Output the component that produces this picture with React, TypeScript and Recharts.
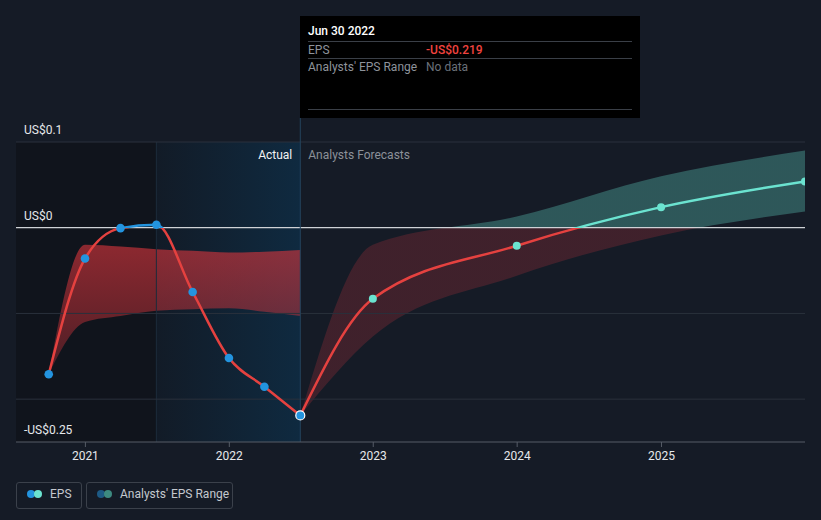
import React from 'react';
import { ComposedChart, Line, Area, XAxis, YAxis, ReferenceLine, ReferenceArea } from 'recharts';

// ---- data ----
const histDates = ['2020-09-30', '2020-12-31', '2021-03-31', '2021-06-30', '2021-09-30', '2021-12-31', '2022-03-31', '2022-06-30'];
const histEps = [-0.171, -0.036, -0.0005, 0.0035, -0.075, -0.152, -0.1855, -0.219];
const histLow = [-0.171, -0.110, -0.103, -0.097, -0.095, -0.094, -0.098, -0.103];
const histHigh = [-0.171, -0.020, -0.022, -0.025, -0.027, -0.029, -0.028, -0.026];

const fcDates = ['2022-06-30', '2022-12-31', '2023-12-31', '2024-12-31', '2025-12-31'];
const fcEps = [-0.219, -0.083, -0.021, 0.024, 0.054];
const fcLow = [-0.219, -0.127, -0.056, -0.009, 0.019];
const fcHigh = [-0.219, -0.020, 0.013, 0.060, 0.090];

const yearTicks = ['2021', '2022', '2023', '2024', '2025'];
const yTickLabels = [
  { v: 0.1, label: 'US$0.1' },
  { v: 0, label: 'US$0' },
  { v: -0.25, label: '-US$0.25' },
];
const gridValues = [0.1, -0.1, -0.2];

const xStart = '2020-07-09';
const xEnd = '2025-12-31';
const pastYearStart = '2021-06-30';
const lastActual = '2022-06-30';

// ---- helpers ----
const toT = (s: string) => {
  const [y, m, d] = s.split('-').map(Number);
  return Date.UTC(y, m - 1, d);
};

type Row = { t: number; eps?: number; fcEps?: number; histRange?: [number, number]; fcRange?: [number, number] };

const rowMap = new Map<number, Row>();
histDates.forEach((d, i) => {
  const t = toT(d);
  const r = rowMap.get(t) ?? { t };
  r.eps = histEps[i];
  r.histRange = [histLow[i], histHigh[i]];
  rowMap.set(t, r);
});
fcDates.forEach((d, i) => {
  const t = toT(d);
  const r = rowMap.get(t) ?? { t };
  r.fcEps = fcEps[i];
  r.fcRange = [fcLow[i], fcHigh[i]];
  rowMap.set(t, r);
});
const data = Array.from(rowMap.values()).sort((a, b) => a.t - b.t);

const histMax = Math.max(...histEps);
const histMin = Math.min(...histEps);
const histOff = histMax > 0 ? histMax / (histMax - histMin) : 0;
const fcMax = Math.max(...fcEps);
const fcMin = Math.min(...fcEps);
const fcOff = fcMax > 0 ? fcMax / (fcMax - fcMin) : 0;
const fcRMax = Math.max(...fcHigh);
const fcRMin = Math.min(...fcLow);
const fcROff = fcRMax > 0 ? fcRMax / (fcRMax - fcRMin) : 0;

const RED = '#e5413f';
const BLUE = '#2394df';
const TEAL = '#6be3d0';
const BG = '#151b26';
const FONT = 'Roboto, "Noto Sans", sans-serif';

const lastT = toT(lastActual);

const HistDot = (props: any) => {
  const { cx, cy, payload, index } = props;
  if (cx == null || cy == null || payload?.eps == null) return <g key={`hd-${index}`} />;
  const isLast = payload.t === lastT;
  return (
    <circle key={`hd-${index}`} cx={cx} cy={cy} r={isLast ? 4.5 : 4.3} fill={BLUE} stroke={isLast ? '#ffffff' : 'none'} strokeWidth={1.2} />
  );
};

const FcDot = (props: any) => {
  const { cx, cy, payload, index } = props;
  if (cx == null || cy == null || payload?.fcEps == null || payload.t === lastT) return <g key={`fd-${index}`} />;
  return <circle key={`fd-${index}`} cx={cx} cy={cy} r={4} fill={TEAL} stroke="none" />;
};

const labelStyle = { fill: '#e6e8eb', fontSize: 12 };

export default function App() {
  return (
    <div style={{ position: 'fixed', left: 0, top: 0, width: 821, height: 520, background: BG, fontFamily: FONT, overflow: 'hidden' }}>
      <ComposedChart width={821} height={520} data={data} margin={{ top: 142, right: 16, bottom: 48, left: 16 }} style={{ fontFamily: FONT }}>
        <defs>
          <linearGradient id="pastYear" x1="0" y1="0" x2="1" y2="0">
            <stop offset="0%" stopColor="#121b27" />
            <stop offset="100%" stopColor="#0f2a40" />
          </linearGradient>
          <linearGradient id="histBand" x1="0" y1="0" x2="0" y2="1">
            <stop offset="0%" stopColor="#d9353c" stopOpacity={0.62} />
            <stop offset="100%" stopColor="#d9353c" stopOpacity={0.3} />
          </linearGradient>
          <linearGradient id="fcBand" x1="0" y1="0" x2="0" y2="1">
            <stop offset="0%" stopColor="#50aaa0" stopOpacity={0.42} />
            <stop offset={fcROff} stopColor="#50aaa0" stopOpacity={0.42} />
            <stop offset={fcROff} stopColor="#be323c" stopOpacity={0.25} />
            <stop offset="100%" stopColor="#be323c" stopOpacity={0.25} />
          </linearGradient>
          <linearGradient id="histLine" x1="0" y1="0" x2="0" y2="1">
            <stop offset="0%" stopColor={BLUE} />
            <stop offset={histOff} stopColor={BLUE} />
            <stop offset={histOff} stopColor={RED} />
            <stop offset="100%" stopColor={RED} />
          </linearGradient>
          <linearGradient id="fcLine" x1="0" y1="0" x2="0" y2="1">
            <stop offset="0%" stopColor={TEAL} />
            <stop offset={fcOff} stopColor={TEAL} />
            <stop offset={fcOff} stopColor={RED} />
            <stop offset="100%" stopColor={RED} />
          </linearGradient>
        </defs>

        <XAxis
          dataKey="t"
          type="number"
          domain={[toT(xStart), toT(xEnd)]}
          ticks={yearTicks.map((y) => toT(`${y}-01-01`))}
          tickFormatter={(v: number) => String(new Date(v).getUTCFullYear())}
          axisLine={{ stroke: '#565c66' }}
          tickLine={{ stroke: '#565c66' }}
          tickSize={5}
          tickMargin={4}
          tick={{ fill: '#e6e8eb', fontSize: 12 }}
          allowDataOverflow
        />
        <YAxis type="number" domain={[-0.25, 0.1]} hide allowDataOverflow />

        <ReferenceArea x1={toT(xStart)} x2={toT(pastYearStart)} fill="#10141c" fillOpacity={1} stroke="none" />
        <ReferenceArea x1={toT(pastYearStart)} x2={toT(lastActual)} fill="url(#pastYear)" fillOpacity={1} stroke="none" />
        <ReferenceLine x={toT(pastYearStart)} stroke="#1c2b3a" strokeWidth={1} />

        {gridValues.map((v) => (
          <ReferenceLine key={`g${v}`} y={v} stroke="#2a313c" strokeWidth={1} />
        ))}

        <Area
          dataKey="histRange"
          type="monotone"
          fill="url(#histBand)"
          fillOpacity={1}
          stroke="none"
          connectNulls
          isAnimationActive={false}
          dot={false}
          activeDot={false}
        />
        <Area
          dataKey="fcRange"
          type="monotone"
          fill="url(#fcBand)"
          fillOpacity={1}
          stroke="none"
          connectNulls
          isAnimationActive={false}
          dot={false}
          activeDot={false}
        />

        <ReferenceLine y={0} stroke="#cfd2d6" strokeWidth={1.2} />

        {yTickLabels.map((yl) => (
          <ReferenceLine
            key={`yl${yl.v}`}
            y={yl.v}
            stroke="none"
            strokeOpacity={0}
            label={{ value: yl.label, position: 'insideBottomLeft', offset: 8, ...labelStyle }}
          />
        ))}

        <ReferenceLine
          x={lastT}
          stroke="none"
          strokeOpacity={0}
          label={{ value: 'Actual', position: 'insideTopRight', offset: 8, fill: '#f2f3f5', fontSize: 12 }}
        />
        <ReferenceLine
          x={lastT}
          stroke="none"
          strokeOpacity={0}
          label={{ value: 'Analysts Forecasts', position: 'insideTopLeft', offset: 8, fill: '#8c9199', fontSize: 12 }}
        />
        <ReferenceLine
          segment={[{ x: lastT, y: -0.25 }, { x: lastT, y: 0.128 }]}
          stroke="#24445c"
          strokeWidth={1}
          ifOverflow="visible"
        />

        <Line
          dataKey="fcEps"
          type="monotone"
          stroke="url(#fcLine)"
          strokeWidth={2.5}
          connectNulls
          dot={FcDot}
          activeDot={false}
          isAnimationActive={false}
        />
        <Line
          dataKey="eps"
          type="monotone"
          stroke="url(#histLine)"
          strokeWidth={2.5}
          connectNulls
          dot={HistDot}
          activeDot={false}
          isAnimationActive={false}
        />
      </ComposedChart>

      {/* tooltip */}
      <div style={{ position: 'absolute', left: 300, top: 16, width: 340, height: 102, background: '#000', fontSize: 12 }}>
        <div style={{ position: 'absolute', left: 8, top: 8, color: '#ffffff', fontWeight: 500, lineHeight: '14px' }}>Jun 30 2022</div>
        <div style={{ position: 'absolute', left: 8, top: 25, width: 324, height: 1, background: '#3a3f47' }} />
        <div style={{ position: 'absolute', left: 8, top: 27, color: '#8e939b', lineHeight: '14px' }}>EPS</div>
        <div style={{ position: 'absolute', left: 126, top: 27, color: '#f0433f', fontWeight: 500, lineHeight: '14px' }}>-US$0.219</div>
        <div style={{ position: 'absolute', left: 8, top: 42, width: 324, height: 1, background: '#3a3f47' }} />
        <div style={{ position: 'absolute', left: 8, top: 44, color: '#8e939b', lineHeight: '14px' }}>Analysts' EPS Range</div>
        <div style={{ position: 'absolute', left: 126, top: 44, color: '#6b7079', lineHeight: '14px' }}>No data</div>
        <div style={{ position: 'absolute', left: 8, top: 93, width: 324, height: 1, background: '#3a3f47' }} />
      </div>

      {/* legend */}
      <div style={{ position: 'absolute', left: 16, top: 482, width: 64, height: 25, border: '1px solid #3b414b', borderRadius: 3 }} />
      <div style={{ position: 'absolute', left: 27, top: 490, width: 8, height: 8, borderRadius: 4, background: BLUE }} />
      <div style={{ position: 'absolute', left: 34, top: 490, width: 8, height: 8, borderRadius: 4, background: TEAL }} />
      <div style={{ position: 'absolute', left: 50, top: 487, fontSize: 12, color: '#c4c8ce', lineHeight: '14px' }}>EPS</div>

      <div style={{ position: 'absolute', left: 86, top: 482, width: 145, height: 25, border: '1px solid #3b414b', borderRadius: 3 }} />
      <div style={{ position: 'absolute', left: 97, top: 490, width: 8, height: 8, borderRadius: 4, background: '#1d5a85' }} />
      <div style={{ position: 'absolute', left: 104, top: 490, width: 8, height: 8, borderRadius: 4, background: '#3d8a80' }} />
      <div style={{ position: 'absolute', left: 120, top: 487, fontSize: 12, color: '#c4c8ce', lineHeight: '14px' }}>Analysts' EPS Range</div>
    </div>
  );
}
